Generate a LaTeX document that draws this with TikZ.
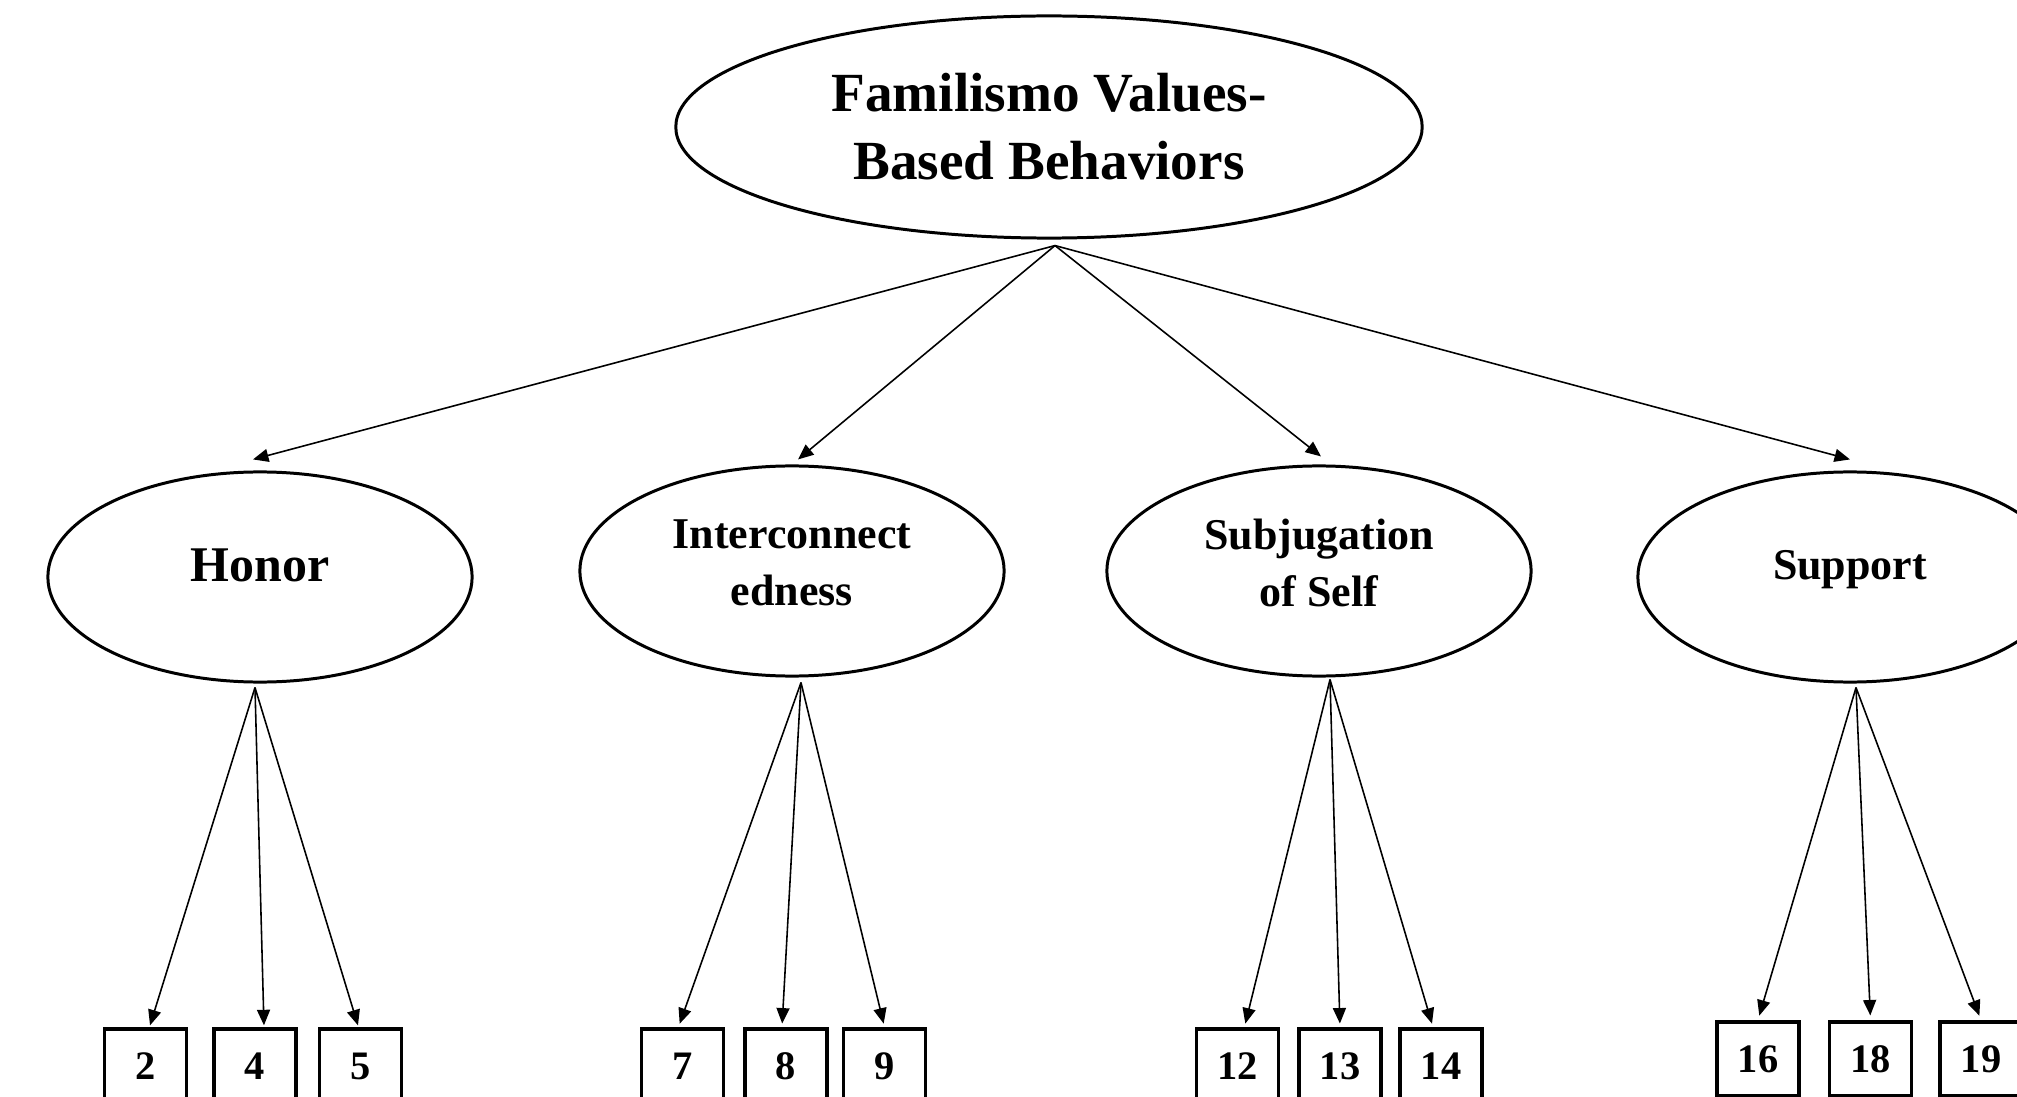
\documentclass[tikz,border=0pt]{standalone}
\usepackage{fontspec}
\setmainfont{Liberation Serif}
\usetikzlibrary{shapes.geometric,arrows.meta}
\begin{document}
\begin{tikzpicture}[x=0.01cm,y=-0.01cm,
  lat/.style={ellipse,draw,line width=0.85pt,inner sep=0pt,minimum width=4.24cm,minimum height=2.1cm,align=center,font=\fontsize{12.5}{16.2}\selectfont\bfseries},
  obs/.style={rectangle,draw,line width=1.1pt,inner sep=0pt,minimum width=0.82cm,minimum height=0.74cm,font=\fontsize{11.5}{14}\selectfont\bfseries},
  arr/.style={-{Triangle[length=4.4pt,width=3.7pt]},line width=0.45pt}]
\useasboundingbox (0,0) rectangle (2017,1097);
\clip (0,0) rectangle (2017,1097);
% latent variables
\node[lat,minimum width=7.46cm,minimum height=2.22cm,font=\fontsize{15.7}{19.4}\selectfont\bfseries] (top) at (1049,127) {Familismo Values-\\Based Behaviors};
\node[lat,text depth=0.24cm,font=\fontsize{14.2}{17}\selectfont\bfseries] (honor) at (260,577) {Honor};
\node[lat,text depth=0.16cm] (inter) at (792,571) {Interconnect\\edness};
\node[lat,text depth=0.16cm] (subj) at (1319,571) {Subjugation\\of Self};
\node[lat,text depth=0.25cm] (supp) at (1850,577) {Support};
% indicators
\node[obs] (b2) at (145.5,1066) {2};
\node[obs] (b4) at (255,1066) {4};
\node[obs] (b5) at (360.5,1066) {5};
\node[obs] (b7) at (682.5,1066) {7};
\node[obs] (b8) at (786,1066) {8};
\node[obs] (b9) at (884.5,1066) {9};
\node[obs] (b12) at (1237.5,1066) {12};
\node[obs] (b13) at (1340,1066) {13};
\node[obs] (b14) at (1441,1066) {14};
\node[obs] (b16) at (1758,1059) {16};
\node[obs] (b18) at (1870.5,1059) {18};
\node[obs] (b19) at (1981,1059) {19};
% apex points just below each ellipse
\coordinate (ta) at ([xshift=0.06cm,yshift=-0.06cm]top.south);
\coordinate (ha) at ([xshift=-0.05cm,yshift=-0.04cm]honor.south);
\coordinate (ia) at ([xshift=0.09cm,yshift=-0.05cm]inter.south);
\coordinate (sa) at ([xshift=0.11cm,yshift=-0.02cm]subj.south);
\coordinate (pa) at ([xshift=0.06cm,yshift=-0.04cm]supp.south);
% top arrows
\draw[arr] (ta) -- ([xshift=-0.07cm,yshift=0.11cm]honor.north);
\draw[arr] (ta) -- ([xshift=0.06cm,yshift=0.05cm]inter.north);
\draw[arr] (ta) -- ([xshift=0.02cm,yshift=0.08cm]subj.north);
\draw[arr] (ta) -- ([yshift=0.11cm]supp.north);
% lower arrows
\draw[arr,shorten >=0.5pt] (ha) -- ([xshift=0.04cm]b2.north);
\draw[arr,shorten >=0.5pt] (ha) -- ([xshift=0.09cm]b4.north);
\draw[arr,shorten >=0.5pt] (ha) -- ([xshift=-0.02cm]b5.north);
\draw[arr,shorten >=1pt] (ia) -- ([xshift=-0.04cm]b7.north);
\draw[arr,shorten >=1pt] (ia) -- ([xshift=-0.04cm]b8.north);
\draw[arr,shorten >=1pt] (ia) -- (b9.north);
\draw[arr,shorten >=1pt] (sa) -- ([xshift=0.07cm]b12.north);
\draw[arr,shorten >=1pt] (sa) -- (b13.north);
\draw[arr,shorten >=1pt] (sa) -- ([xshift=-0.08cm]b14.north);
\draw[arr,shorten >=1.3pt] (pa) -- (b16.north);
\draw[arr,shorten >=1.3pt] (pa) -- (b18.north);
\draw[arr,shorten >=1.3pt] (pa) -- (b19.north);
\end{tikzpicture}
\end{document}
